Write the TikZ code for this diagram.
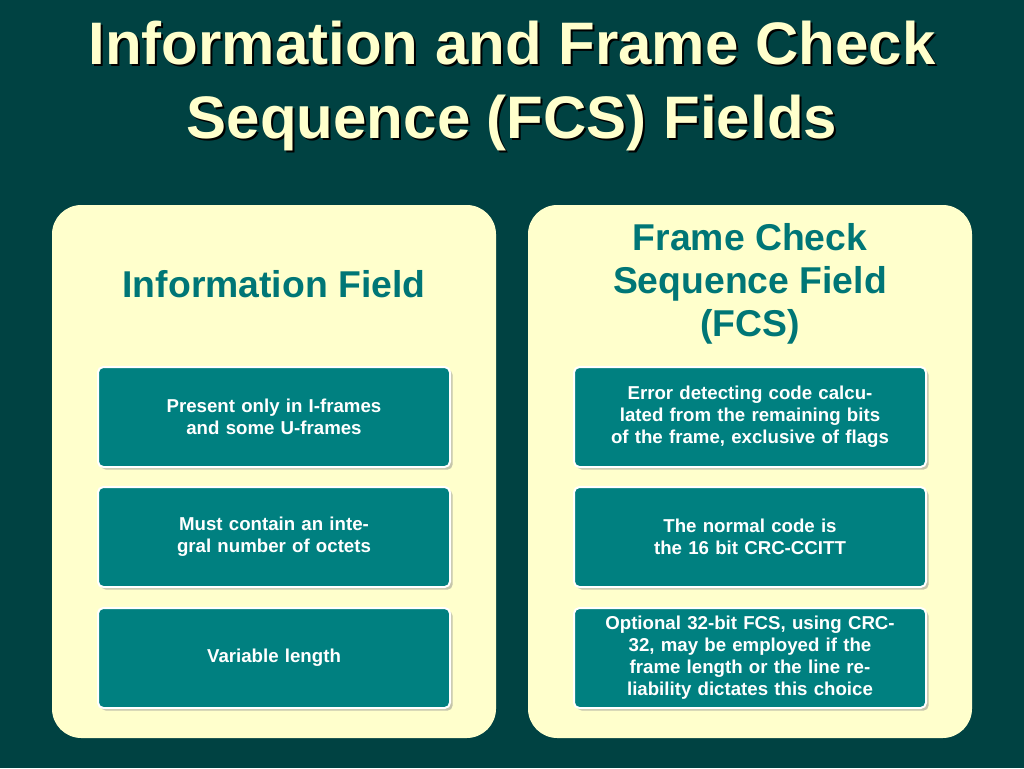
\documentclass[tikz,border=0pt]{standalone}
\usepackage{fontspec}
\setmainfont{Liberation Sans}
\usetikzlibrary{shadows}
\definecolor{bgteal}{RGB}{0,66,66}
\definecolor{paleyel}{RGB}{255,255,204}
\definecolor{boxteal}{RGB}{0,128,128}
\definecolor{headteal}{RGB}{0,118,118}
\tikzset{
  panel/.style={fill=paleyel, rounded corners=22pt},
  infobox/.style={draw=white, line width=1.5pt, fill=boxteal, rounded corners=4pt,
    minimum width=264pt, minimum height=75pt, text width=250pt, align=center,
    text=white, font=\fontsize{14}{16.5}\selectfont\bfseries,
    drop shadow={shadow xshift=2pt, shadow yshift=-2pt, fill=black!45}},
  headtext/.style={text=headteal, align=center, font=\fontsize{28}{32}\selectfont\bfseries},
  titletext/.style={text=paleyel, align=center, font=\fontsize{45}{56}\selectfont\bfseries}
}
\begin{document}
\begin{tikzpicture}[x=0.75pt,y=-0.75pt]
\fill[bgteal] (0,0) rectangle (1024,768);

% Titel
\node[titletext, text=black] at (514,88) {Information and Frame Check\\Sequence (FCS) Fields};
\node[titletext] (title) at (512,86) {Information and Frame Check\\Sequence (FCS) Fields};

% Felder
\fill[panel] (52,205) rectangle (496,738);
\fill[panel] (528,205) rectangle (972,738);

\node[headtext] (infohead) at (274,284) {Information Field};
\node[headtext] (fcshead) at (750,284) {Frame Check\\Sequence Field\\(FCS)};

\node[infobox] (info1) at (274,417) {Present only in I-frames and some U-frames\\[12pt]};
\node[infobox] (info2) at (274,537) {Must contain an integral number of octets};
\node[infobox] (info3) at (274,658) {Variable length};

\node[infobox] (fcs1) at (750,417) {Error detecting code calculated from the remaining bits of the frame, exclusive of flags};
\node[infobox] (fcs2) at (750,537) {The normal code is the 16 bit CRC-CCITT};
\node[infobox] (fcs3) at (750,658) {Optional 32-bit FCS, using CRC-32, may be employed if the frame length or the line reliability dictates this choice};
\end{tikzpicture}
\end{document}
